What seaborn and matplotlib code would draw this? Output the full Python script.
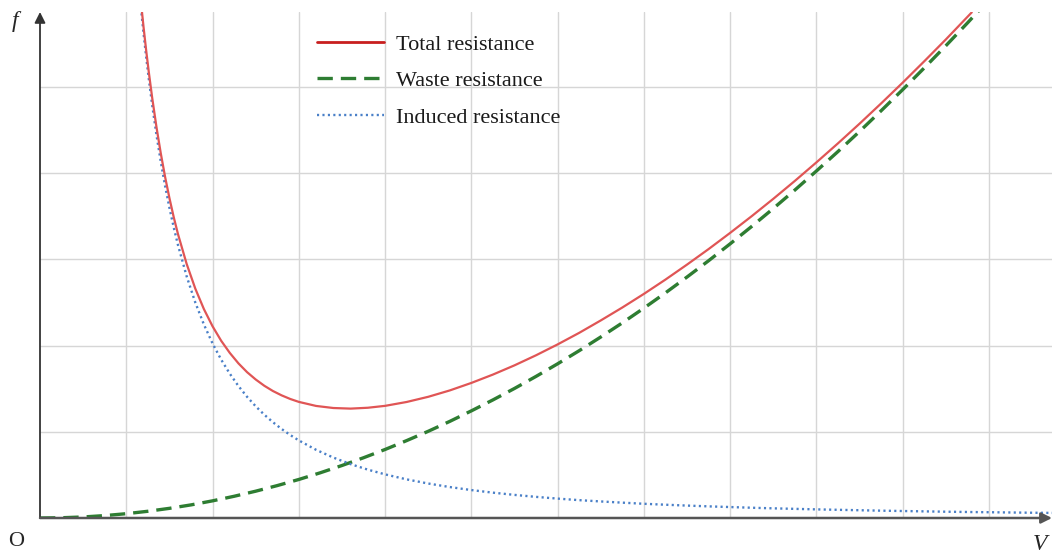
import matplotlib
matplotlib.use("Agg")
import matplotlib.pyplot as plt
import numpy as np
import pandas as pd
import seaborn as sns

# ---- data (grid units) ----
total_v = [1.17, 1.2, 1.23, 1.26, 1.3, 1.35, 1.4, 1.45, 1.5, 1.55, 1.6, 1.7, 1.8, 1.9, 2.0,
           2.1, 2.2, 2.3, 2.4, 2.5, 2.6, 2.7, 2.8, 2.9, 3.0, 3.2, 3.4, 3.6, 3.8, 4.0, 4.25,
           4.5, 4.75, 5.0, 5.25, 5.5, 5.75, 6.0, 6.25, 6.5, 6.75, 7.0, 7.25, 7.5, 7.75, 8.0,
           8.25, 8.5, 8.75, 9.0, 9.25, 9.5, 9.75, 10.0, 10.25, 10.5, 10.8]
total_f = [5.985, 5.697, 5.429, 5.181, 4.877, 4.535, 4.230, 3.957, 3.712, 3.490, 3.291,
           2.947, 2.661, 2.423, 2.224, 2.056, 1.915, 1.794, 1.692, 1.607, 1.534, 1.473,
           1.423, 1.381, 1.347, 1.300, 1.276, 1.269, 1.279, 1.301, 1.346, 1.406, 1.480,
           1.567, 1.664, 1.771, 1.888, 2.014, 2.148, 2.292, 2.442, 2.600, 2.766, 2.940,
           3.120, 3.308, 3.502, 3.703, 3.911, 4.126, 4.347, 4.575, 4.810, 5.051, 5.299,
           5.552, 5.866]

waste_v = [0, 0.25, 0.5, 0.75, 1.0, 1.25, 1.5, 1.75, 2.0, 2.25, 2.5, 2.75, 3.0, 3.25, 3.5,
           3.75, 4.0, 4.25, 4.5, 4.75, 5.0, 5.25, 5.5, 5.75, 6.0, 6.25, 6.5, 6.75, 7.0, 7.25,
           7.5, 7.75, 8.0, 8.25, 8.5, 8.75, 9.0, 9.25, 9.5, 9.75, 10.0, 10.25, 10.5, 10.75,
           10.9]
waste_f = [0, 0.003, 0.012, 0.028, 0.050, 0.078, 0.112, 0.152, 0.199, 0.252, 0.311, 0.376,
           0.447, 0.525, 0.609, 0.699, 0.795, 0.898, 1.006, 1.121, 1.243, 1.370, 1.503,
           1.643, 1.789, 1.941, 2.100, 2.264, 2.435, 2.612, 2.796, 2.985, 3.181, 3.383,
           3.591, 3.805, 4.026, 4.252, 4.485, 4.725, 4.970, 5.222, 5.479, 5.743, 5.905]

induced_v = [1.17, 1.2, 1.23, 1.26, 1.3, 1.35, 1.4, 1.45, 1.5, 1.55, 1.6, 1.7, 1.8, 1.9,
             2.0, 2.1, 2.2, 2.3, 2.4, 2.5, 2.6, 2.7, 2.8, 2.9, 3.0, 3.2, 3.4, 3.6, 3.8, 4.0,
             4.25, 4.5, 4.75, 5.0, 5.25, 5.5, 5.75, 6.0, 6.25, 6.5, 6.75, 7.0, 7.25, 7.5,
             7.75, 8.0, 8.25, 8.5, 8.75, 9.0, 9.25, 9.5, 9.75, 10.0, 10.25, 10.5, 10.8,
             11.0, 11.25, 11.5, 11.73]
induced_f = [5.917, 5.625, 5.354, 5.102, 4.793, 4.444, 4.133, 3.853, 3.600, 3.371, 3.164,
             2.803, 2.500, 2.244, 2.025, 1.837, 1.674, 1.531, 1.406, 1.296, 1.198, 1.111,
             1.033, 0.963, 0.900, 0.791, 0.701, 0.625, 0.561, 0.506, 0.448, 0.400, 0.359,
             0.324, 0.294, 0.268, 0.245, 0.225, 0.207, 0.192, 0.178, 0.165, 0.154, 0.144,
             0.135, 0.127, 0.119, 0.112, 0.106, 0.100, 0.095, 0.090, 0.085, 0.081, 0.077,
             0.073, 0.069, 0.067, 0.064, 0.061, 0.059]

labels = ["Total resistance", "Waste resistance", "Induced resistance"]
x_grid = list(range(1, 12))
y_grid = list(range(1, 6))

# ---- figure ----
sns.set_style("white")
plt.rcParams['font.family'] = ['Liberation Serif', 'DejaVu Serif']

W, H = 1052, 553
fig = plt.figure(figsize=(W / 100, H / 100), dpi=100)
left, bottom, top = 40, 518, 12
ax = fig.add_axes([left / W, (H - bottom) / H, (W - left) / W, (bottom - top) / H])
ax.set_xlim(0, 11.73)
ax.set_ylim(0, 5.87)

for gx in x_grid:
    ax.axvline(gx, color="#d6d6d6", lw=1.0, zorder=0)
for gy in y_grid:
    ax.axhline(gy, color="#d6d6d6", lw=1.0, zorder=0)

df_t = pd.DataFrame({"V": total_v, "f": total_f})
df_w = pd.DataFrame({"V": waste_v, "f": waste_f})
df_i = pd.DataFrame({"V": induced_v, "f": induced_f})

sns.lineplot(data=df_w, x="V", y="f", ax=ax, color="#2e7d32", lw=2.4, sort=False,
             estimator=None, label=labels[1])
ax.lines[-1].set_dashes((4.6, 2.4))
sns.lineplot(data=df_i, x="V", y="f", ax=ax, color="#4a80c8", lw=1.7, sort=False,
             estimator=None, label=labels[2])
ax.lines[-1].set_dashes((0.9, 1.4))
sns.lineplot(data=df_t, x="V", y="f", ax=ax, color="#e05555", lw=1.6, sort=False,
             estimator=None, label=labels[0])

ax.set_xticks([])
ax.set_yticks([])
ax.set_xlabel("")
ax.set_ylabel("")
for s in ax.spines.values():
    s.set_visible(False)

# axes with arrows
ax.annotate("", xy=(0, 1.0), xytext=(0, 0), xycoords="axes fraction",
            arrowprops=dict(arrowstyle="-|>", color="#333333", lw=1.3, mutation_scale=16,
                            shrinkA=0, shrinkB=0))
ax.annotate("", xy=(1.0, 0), xytext=(0, 0), xycoords="axes fraction",
            arrowprops=dict(arrowstyle="-|>", color="#555555", lw=1.8, mutation_scale=16,
                            shrinkA=0, shrinkB=0), annotation_clip=False)

# legend
handles, labs = ax.get_legend_handles_labels()
order = [labs.index(l) for l in labels]
leg = ax.legend([handles[i] for i in order], [labs[i] for i in order],
                loc="upper left", bbox_to_anchor=(317 / W, 1 - 34 / H),
                bbox_transform=fig.transFigure, frameon=False, fontsize=16,
                handlelength=3.0, handletextpad=0.55, labelspacing=0.72,
                borderpad=0, borderaxespad=0)
for t in leg.get_texts():
    t.set_color("#1a1a1a")
leg.get_lines()[0].set_color("#c81e1e")
leg.get_lines()[0].set_linewidth(2.0)

fig.text(15 / W, 1 - 22 / H, "f", fontsize=17, style="italic", ha="center", va="center")
fig.text(16 / W, 1 - 541 / H, "O", fontsize=16, ha="center", va="center")
fig.text(1040 / W, 1 - 544 / H, "V", fontsize=17, style="italic", ha="center", va="center")

fig.savefig("out.png", dpi=100)
